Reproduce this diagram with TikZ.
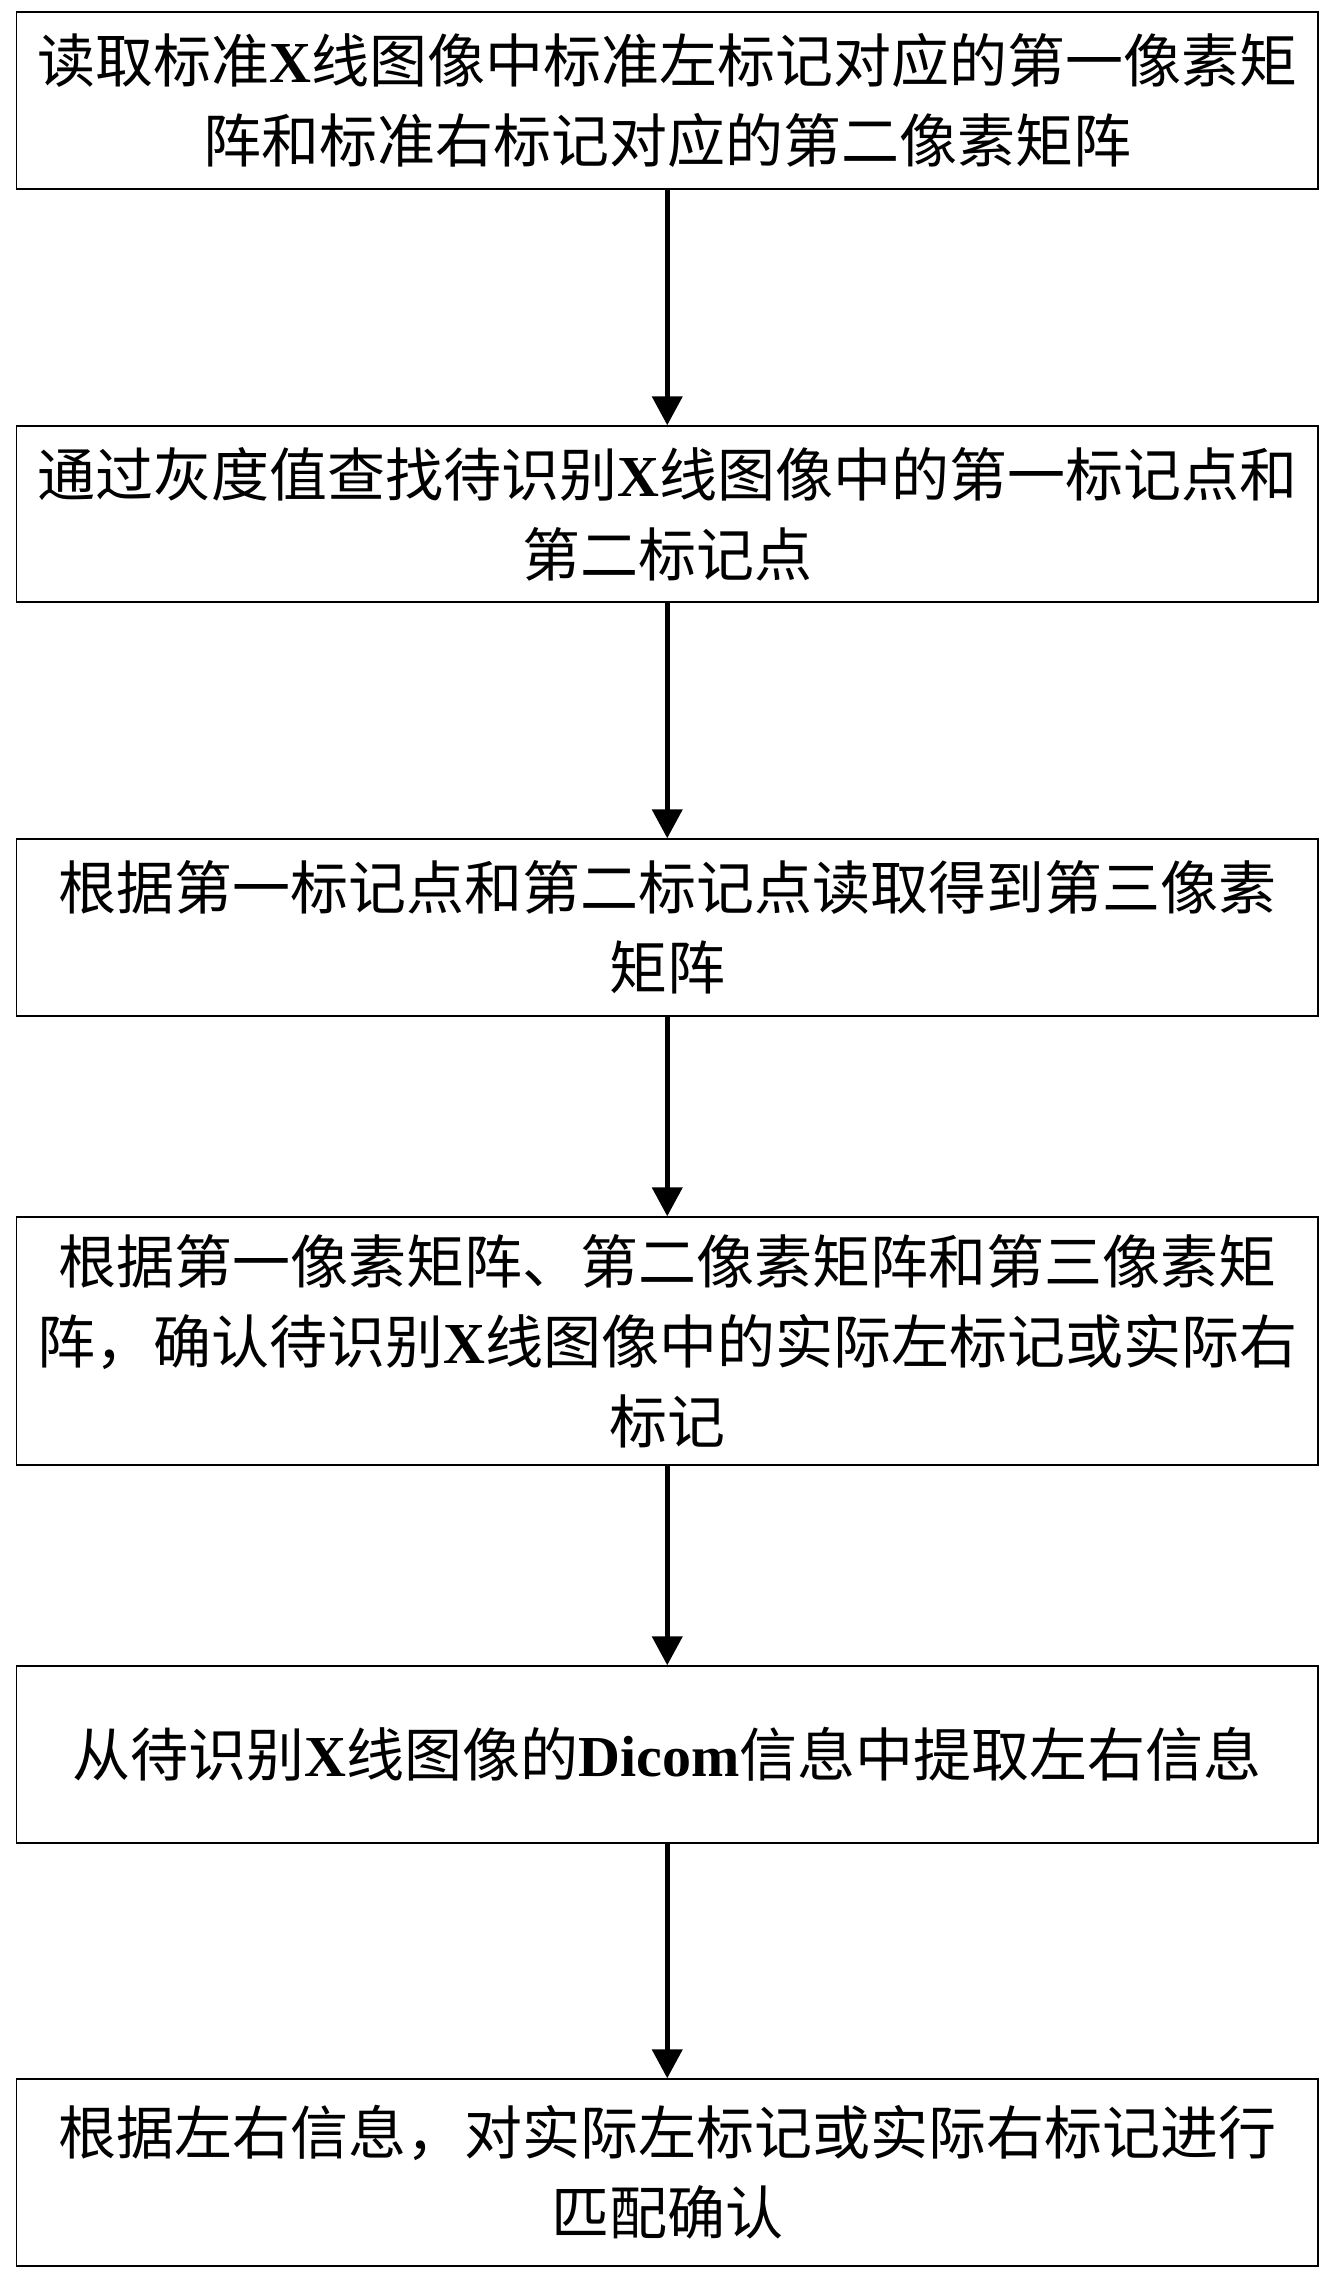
\documentclass[tikz,border=0pt]{standalone}
\usepackage{fontspec}
\setmainfont{Liberation Serif}
\newfontfamily\cjkfont{Noto Sans CJK SC}
\newfontfamily\latfont{Liberation Serif}
\newcommand\lx[1]{{\latfont\bfseries #1}}
\usetikzlibrary{arrows.meta}
\tikzset{
  stepbox/.style={draw, line width=1.5pt, minimum width=1301.5pt, inner sep=0pt,
    align=center, font=\cjkfont\fontsize{58}{80}\selectfont},
  flow/.style={line width=4.5pt, -{Triangle[length=29pt,width=30pt]}}
}
\begin{document}
\begin{tikzpicture}
\useasboundingbox (0pt,0pt) rectangle (1338pt,-2275pt);
\node[stepbox, minimum height=177pt] (b1) at (667.25pt,-100.5pt)
  {读取标准\lx{X}线图像中标准左标记对应的第一像素矩\\阵和标准右标记对应的第二像素矩阵};
\node[stepbox, minimum height=176pt] (b2) at (667.25pt,-514pt)
  {通过灰度值查找待识别\lx{X}线图像中的第一标记点和\\第二标记点};
\node[stepbox, minimum height=177pt] (b3) at (667.25pt,-927.5pt)
  {根据第一标记点和第二标记点读取得到第三像素\\矩阵};
\node[stepbox, minimum height=248pt] (b4) at (667.25pt,-1341pt)
  {根据第一像素矩阵、第二像素矩阵和第三像素矩\\阵，确认待识别\lx{X}线图像中的实际左标记或实际右\\标记};
\node[stepbox, minimum height=177pt] (b5) at (667.25pt,-1754.5pt)
  {从待识别\lx{X}线图像的\lx{Dicom}信息中提取左右信息};
\node[stepbox, minimum height=187pt] (b6) at (667.25pt,-2172.5pt)
  {根据左右信息，对实际左标记或实际右标记进行\\匹配确认};
\draw[flow] (b1) -- (b2);
\draw[flow] (b2) -- (b3);
\draw[flow] (b3) -- (b4);
\draw[flow] (b4) -- (b5);
\draw[flow] (b5) -- (b6);
\end{tikzpicture}
\end{document}
